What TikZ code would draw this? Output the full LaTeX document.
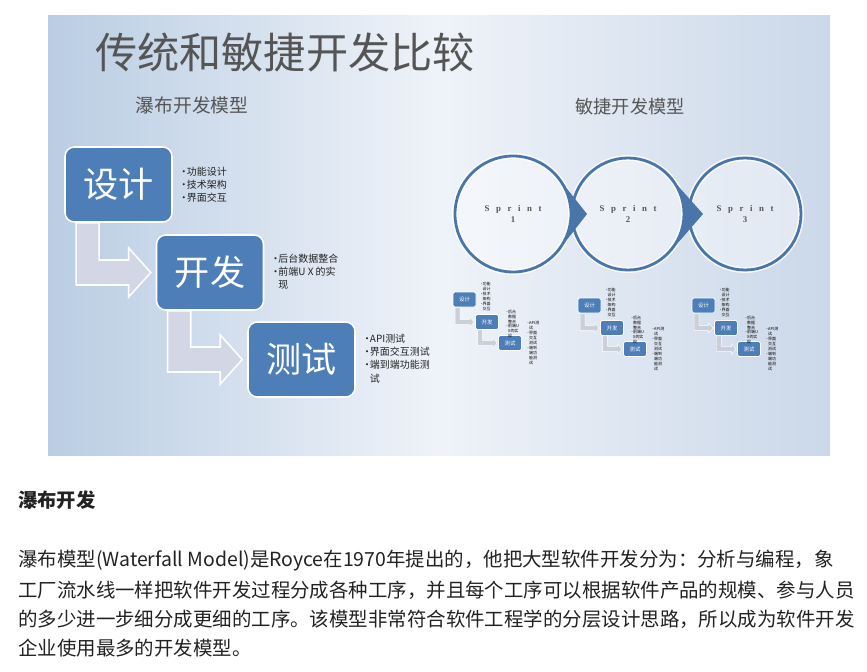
\documentclass[tikz,border=0pt]{standalone}
\usepackage{fontspec}
\setmainfont{Noto Sans CJK SC}
\newfontfamily\sprintfont[LetterSpace=75]{Liberation Serif}
\usetikzlibrary{calc}

\definecolor{slideleft}{RGB}{186,205,227}
\definecolor{slidemid}{RGB}{239,243,249}
\definecolor{slideright}{RGB}{203,216,233}
\definecolor{stageblue}{RGB}{77,126,184}
\definecolor{ringblue}{RGB}{73,117,168}
\definecolor{bendfill}{RGB}{211,214,229}
\definecolor{minibendfill}{RGB}{203,207,217}
\definecolor{slidetext}{RGB}{85,85,85}
\definecolor{bodytext}{RGB}{34,34,34}

% bullet and hanging indent for the lists
\newcommand\itm{\makebox[0.8em][l]{•}}
\newcommand\cnt{\hspace*{0.8em}}

% bent arrow from the bottom of one box to the left side of the next
\newcommand\bendarrow[3]{%
  \coordinate (ba) at ($(#1.south west)+({12*#3},0)$);
  \coordinate (bb) at ($(#1.south west)+({35*#3},0)$);
  \coordinate (bu) at ($(#2.west)+(0,{-12.5*#3})$);
  \coordinate (bd) at ($(#2.west)+(0,{12.5*#3})$);
  \path (ba) -- (bb) -- (bb |- bu) -- ($(bu)+({-27*#3},0)$) -- ($(bu)+({-27*#3},{-12*#3})$)
    -- ($(#2.west)+({-5*#3},0)$) -- ($(bd)+({-27*#3},{12*#3})$) -- ($(bd)+({-27*#3},0)$)
    -- (ba |- bd) -- cycle;
}

\tikzset{
  stage/.style={draw=white, line width=1.3pt, fill=stageblue, rounded corners=8pt, text=white,
    minimum width=3.21cm, minimum height=2.25cm, inner sep=0pt,
    font=\fontsize{30pt}{30pt}\selectfont},
  ministage/.style={draw=white, line width=0.5pt, fill=stageblue, rounded corners=1.5pt, text=white,
    minimum width=0.69cm, minimum height=0.45cm, inner sep=0pt,
    font=\fontsize{4.6pt}{4.6pt}\selectfont},
  bullets/.style={anchor=west, align=left, inner sep=0pt, text=bodytext,
    font=\fontsize{8.5pt}{11.3pt}\selectfont},
  minibullets/.style={anchor=west, align=left, inner sep=0pt, text=black,
    font=\fontsize{3.4pt}{4.2pt}\selectfont},
  ring/.style={circle, draw=ringblue, line width=2.4pt, fill=white, fill opacity=0.4,
    draw opacity=1, text opacity=1, outer sep=0pt, inner sep=0pt, align=center,
    text=slidetext, font=\sprintfont\bfseries\fontsize{7.5pt}{10pt}\selectfont},
  glow/.style={draw=white, line width=5pt, draw opacity=0.85},
  slidetitle/.style={inner sep=0pt, text=slidetext},
  bodyline/.style={anchor=west, inner sep=0pt, text=bodytext,
    font=\fontsize{16.6pt}{16.6pt}\selectfont}
}

\begin{document}
\begin{tikzpicture}[x=0.03cm, y=-0.03cm]
  \useasboundingbox (0,0) rectangle (867,671);
  % slide background
  \shade[left color=slideleft, right color=slideright, middle color=slidemid] (48,15) rectangle (830,455);

  % titles
  \node[slidetitle, anchor=west, font=\fontsize{36pt}{36pt}\selectfont] (title) at (95,52) {传统和敏捷开发比较};
  \node[slidetitle, font=\fontsize{16pt}{16pt}\selectfont] (wfm) at (192,105) {瀑布开发模型};
  \node[slidetitle, font=\fontsize{15.5pt}{15.5pt}\selectfont] (agm) at (630,107) {敏捷开发模型};

  % waterfall stages
  \node[stage] (sj) at (118.5,184.5) {设计};
  \node[stage] (kf) at (210,272.5) {开发};
  \node[stage] (cs) at (301.5,359.5) {测试};
  \begin{scope}[every path/.style={fill=bendfill, draw=white, line width=1.3pt}]
    \bendarrow{sj}{kf}{1}
    \bendarrow{kf}{cs}{1}
  \end{scope}
  \node[bullets] (sjl) at ($(sj.east)+(6,0)$) {\itm 功能设计\\\itm 技术架构\\\itm 界面交互};
  \node[bullets] (kfl) at ($(kf.east)+(6,-1)$) {\itm 后台数据整合\\\itm 前端U X 的实\\\cnt 现};
  \node[bullets] (csl) at ($(cs.east)+(6,-1)$) {\itm API测试\\\itm 界面交互测试\\\itm 端到端功能测\\\cnt 试};

  % sprint circles
  \draw[glow] (513,214) circle[radius=1.74cm];
  \draw[glow] (628,214) circle[radius=1.68cm];
  \draw[glow] (745,214) circle[radius=1.68cm];
  \node[ring, minimum size=3.48cm] (c1) at (513,214) {Sprint\\1};
  \node[ring, minimum size=3.36cm] (c2) at (628,214) {Sprint\\2};
  \node[ring, minimum size=3.36cm] (c3) at (745,214) {Sprint\\3};
  \coordinate (t1) at ($(c1.center)+(74,0)$);
  \coordinate (t2) at ($(c2.center)+(75,0)$);
  \fill[ringblue] (t1) -- (c1.38.4) arc[start angle=38.4, end angle=-38.4, radius=1.74cm] -- cycle;
  \fill[ringblue] (t2) -- (c2.41.7) arc[start angle=41.7, end angle=-41.7, radius=1.68cm] -- cycle;

  % small waterfall under each sprint
  \foreach \i/\dx/\dy in {1/0/0, 2/125/6, 3/239/6} {
    \node[ministage] (d\i) at ({464.5+\dx},{299.5+\dy}) {设计};
    \node[ministage] (k\i) at ({487+\dx},{322+\dy}) {开发};
    \node[ministage] (t\i) at ({510+\dx},{343+\dy}) {测试};
    \begin{scope}[every path/.style={fill=minibendfill, draw=white, line width=0.4pt}]
      \bendarrow{d\i}{k\i}{0.21}
      \bendarrow{k\i}{t\i}{0.21}
    \end{scope}
    \node[minibullets] (dl\i) at ($(d\i.east)+(3,-3)$) {\itm 功能\\\cnt 设计\\\itm 技术\\\cnt 架构\\\itm 界面\\\cnt 交互};
    \node[minibullets] (kl\i) at ($(k\i.east)+(6,2)$) {\itm 后台\\\cnt 数据\\\cnt 整合\\\itm 前端U\\\cnt X的实\\\cnt 现};
    \node[minibullets] (tl\i) at ($(t\i.east)+(4,0)$) {\itm API测\\\cnt 试\\\itm 界面\\\cnt 交互\\\cnt 测试\\\itm 端到\\\cnt 端功\\\cnt 能测\\\cnt 试};
  }

  % text below the slide
  \node[bodyline, font=\fontsize{16.5pt}{16.5pt}\bfseries\selectfont] (head) at (18,500) {瀑布开发};
  \node[bodyline] (p1) at (18,561) {瀑布模型(Waterfall Model)是Royce在1970年提出的，他把大型软件开发分为：分析与编程，象};
  \node[bodyline] (p2) at (18,590) {工厂流水线一样把软件开发过程分成各种工序，并且每个工序可以根据软件产品的规模、参与人员};
  \node[bodyline] (p3) at (18,619) {的多少进一步细分成更细的工序。该模型非常符合软件工程学的分层设计思路，所以成为软件开发};
  \node[bodyline] (p4) at (18,648) {企业使用最多的开发模型。};
\end{tikzpicture}
\end{document}
